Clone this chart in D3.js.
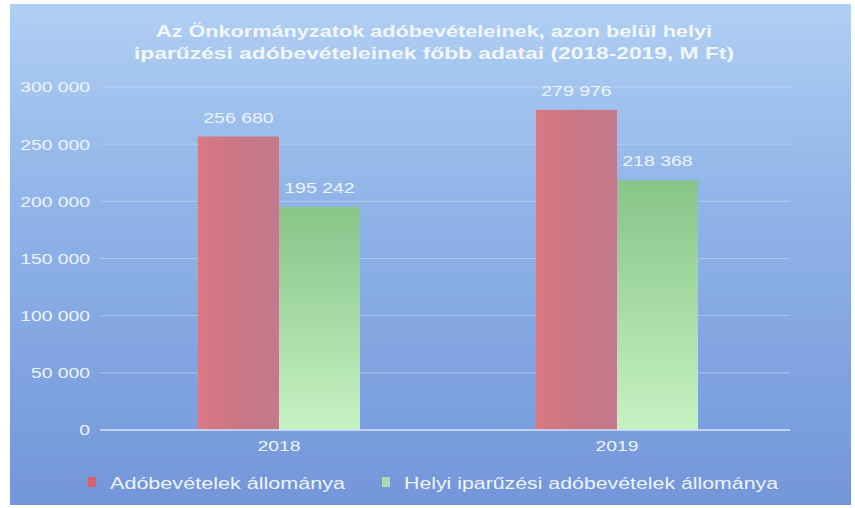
<!DOCTYPE html>
<html><head><meta charset="utf-8">
<script src="https://cdn.jsdelivr.net/npm/d3@7/dist/d3.min.js"></script>
<style>body{margin:0;background:#fff;}svg{display:block;}</style>
</head><body>
<svg id="c" width="855" height="508"></svg>
<script>
const categories = ["2018", "2019"];
const seriesNames = ["Adóbevételek állománya", "Helyi iparűzési adóbevételek állománya"];
const adobevetelek = [256680, 279976];
const iparuzesi = [195242, 218368];
const valueLabels = [["256 680", "279 976"], ["195 242", "218 368"]];
const yTicks = [0, 50000, 100000, 150000, 200000, 250000, 300000];
const yTickLabels = ["0", "50 000", "100 000", "150 000", "200 000", "250 000", "300 000"];
const titleLines = ["Az Önkormányzatok adóbevételeinek, azon belül helyi", "iparűzési adóbevételeinek főbb adatai (2018-2019, M Ft)"];

const svg = d3.select("#c");
const defs = svg.append("defs");
const bg = defs.append("linearGradient").attr("id","bg").attr("x1",0).attr("y1",0).attr("x2",0).attr("y2",1);
bg.append("stop").attr("offset","0%").attr("stop-color","#b0cff4");
bg.append("stop").attr("offset","40%").attr("stop-color","#90b4e8");
bg.append("stop").attr("offset","100%").attr("stop-color","#7496da");
const gg = defs.append("linearGradient").attr("id","gg").attr("x1",0).attr("y1",0).attr("x2",0).attr("y2",1);
gg.append("stop").attr("offset","0%").attr("stop-color","#88c488");
gg.append("stop").attr("offset","100%").attr("stop-color","#c6f2c2");
const rg = defs.append("linearGradient").attr("id","rg").attr("x1",0).attr("y1",0).attr("x2",1).attr("y2",0);
rg.append("stop").attr("offset","0%").attr("stop-color","#d87a84");
rg.append("stop").attr("offset","50%").attr("stop-color","#c97684");
rg.append("stop").attr("offset","100%").attr("stop-color","#c27a8e");

svg.append("rect").attr("x",10).attr("y",4).attr("width",841).attr("height",501).attr("fill","url(#bg)");

const x0 = d3.scaleBand().domain(categories).range([110, 786]);
const x1 = d3.scaleBand().domain([0,1]).range([0, 162]);
const y = d3.scaleLinear().domain([0, 300000]).range([430, 87]);

const font = "'Liberation Sans', Arial, sans-serif";
const txt = "#eef4ff";

// stretch texts horizontally (reference glyphs are wide)
function stretch(sel, k) {
  sel.each(function() {
    const w = this.getComputedTextLength();
    d3.select(this).attr("textLength", w * k).attr("lengthAdjust", "spacingAndGlyphs");
  });
}

// gridlines
svg.append("g").selectAll("line").data(yTicks).join("line")
  .attr("x1",100).attr("x2",790).attr("y1",d=>y(d)).attr("y2",d=>y(d))
  .attr("stroke","#c4d8f4").attr("stroke-opacity",0.6).attr("stroke-width",1);

// y axis labels
const yAxis = d3.axisLeft(y).tickValues(yTicks).tickFormat((d,i)=>yTickLabels[i]).tickSize(0).tickPadding(0);
const ya = svg.append("g").attr("transform","translate(90,0)").call(yAxis);
ya.select(".domain").remove();
ya.selectAll("text").attr("fill",txt).attr("font-family",font).attr("font-size",14).attr("dy","0.35em");
stretch(ya.selectAll("text"), 1.38);

// bars
const series = [adobevetelek, iparuzesi];
const fills = ["url(#rg)", "url(#gg)"];
series.forEach((vals, si) => {
  const g = svg.append("g");
  g.selectAll("rect").data(vals).join("rect")
    .attr("x",(d,i)=>x0(categories[i]) + x0.bandwidth()/2 - 81 + x1(si))
    .attr("width",x1.bandwidth())
    .attr("y",d=>y(d)).attr("height",d=>y(0)-y(d))
    .attr("fill",fills[si]);
  const t = g.selectAll("text").data(vals).join("text")
    .attr("x",(d,i)=>x0(categories[i]) + x0.bandwidth()/2 - 81 + x1(si) + x1.bandwidth()/2)
    .attr("y",d=>y(d)-14)
    .attr("text-anchor","middle").attr("fill",txt).attr("font-family",font).attr("font-size",15)
    .text((d,i)=>valueLabels[si][i]);
  stretch(t, 1.3);
});

// x axis
const xa = svg.append("g").attr("transform","translate(0,430)").call(d3.axisBottom(x0).tickSize(0).tickPadding(11));
xa.select(".domain").attr("stroke","#d0e0f6").attr("stroke-width",1.5).attr("d","M100,0H790");
xa.selectAll("text").attr("fill",txt).attr("font-family",font).attr("font-size",14);
stretch(xa.selectAll("text"), 1.38);

// title
const tt = svg.append("g").selectAll("text").data(titleLines).join("text")
  .attr("x",434).attr("y",(d,i)=>37 + i*22)
  .attr("text-anchor","middle").attr("fill","#f2f7ff").attr("font-family",font)
  .attr("font-size",16.5).attr("font-weight","bold").text(d=>d);
const titleW = [556, 600];
tt.attr("textLength",(d,i)=>titleW[i]).attr("lengthAdjust","spacingAndGlyphs");

// legend
const legX = [96, 390];
const legW = [235, 374];
const lg = svg.append("g");
seriesNames.forEach((n, i) => {
  lg.append("rect").attr("x",legX[i]-8).attr("y",477).attr("width",8).attr("height",10)
    .attr("fill", i===0 ? "#d8606a" : "#a8dca8");
  lg.append("text").attr("x",legX[i]+14).attr("y",489).attr("fill",txt)
    .attr("font-family",font).attr("font-size",17).text(n)
    .attr("textLength",legW[i]).attr("lengthAdjust","spacingAndGlyphs");
});
</script>
</body></html>
